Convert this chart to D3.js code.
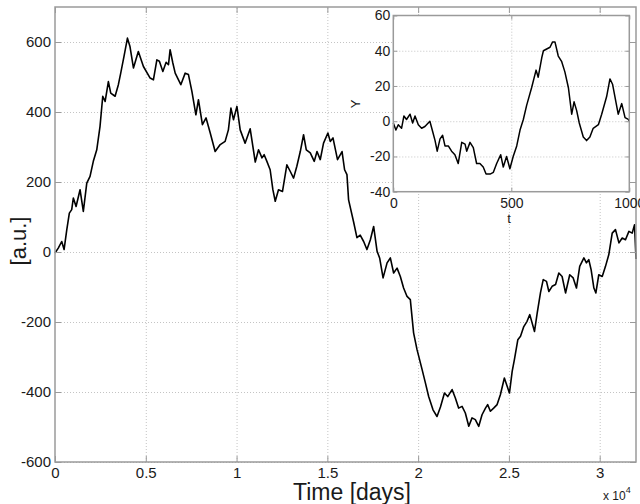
<!DOCTYPE html>
<html>
<head>
<meta charset="utf-8">
<script src="https://cdn.jsdelivr.net/npm/d3@7"></script>
<style>
    body { margin: 0; background: #fff; }
    text { font-family: 'Liberation Sans', Arial, sans-serif; fill: #1a1a1a; }
</style>
</head>
<body>
<script>
// main series: time in days, signal in a.u.
const mainDays = [0,180,370,500,650,790,920,1010,1160,1380,
    1560,1750,1930,2110,2300,2480,2630,2760,2940,3070,
    3310,3490,3620,3800,3990,4130,4320,4590,4870,5240,
    5420,5610,5750,5940,6120,6250,6340,6490,6620,6930,
    7170,7350,7540,7760,7900,8120,8320,8550,8820,9100,
    9370,9550,9690,9830,10020,10200,10470,10750,11030,11210,
    11400,11520,11670,11850,12000,12130,12310,12530,12770,12960,
    13140,13320,13510,13690,13840,14060,14280,14430,14610,14790,
    15030,15160,15310,15560,15810,15950,16080,16170,16450,16630,
    16810,17000,17180,17370,17550,17740,17880,18070,18290,18470,
    18650,18840,19020,19200,19390,19570,19750,19940,20220,20400,
    20580,20820,21040,21230,21450,21630,21870,22050,22230,22420,
    22600,22790,22970,23150,23340,23520,23710,23830,23980,24160,
    24350,24530,24750,25030,25180,25300,25490,25640,25820,26000,
    26150,26410,26560,26740,26890,27070,27200,27380,27570,27750,
    27930,28120,28350,28540,28720,28900,29130,29270,29400,29530,
    29680,29790,29950,30140,30320,30500,30690,30870,31060,31240,
    31420,31610,31790,31920,32000];
const mainValues = [-3,11,30,7,64,111,121,154,130,178,
    116,197,216,259,292,359,445,430,487,454,
    445,478,511,559,611,587,526,573,530,497,
    492,549,545,516,542,535,578,540,511,478,
    511,507,459,392,435,364,383,340,287,307,
    316,349,411,378,416,349,311,352,257,292,
    269,278,259,235,178,145,178,173,249,230,
    211,245,287,335,292,283,259,287,264,311,
    340,316,326,264,287,235,221,149,85,41,
    48,30,7,35,73,2,-17,-74,-31,-17,
    -60,-46,-70,-103,-127,-136,-231,-279,-336,-374,
    -413,-451,-470,-443,-403,-413,-393,-417,-446,-441,
    -460,-498,-474,-479,-498,-465,-446,-436,-455,-446,
    -436,-408,-360,-403,-341,-308,-251,-241,-213,-198,
    -179,-227,-174,-116,-79,-84,-113,-98,-93,-60,
    -70,-117,-65,-74,-103,-41,-17,-31,-22,-51,
    -103,-117,-65,-70,-41,-8,54,64,26,40,
    35,59,54,78,-20];

// inset series: t, Y
const insetT = [0,11,21,35,45,56,71,82,92,106,
    120,134,155,167,177,186,198,209,219,233,
    247,261,275,290,304,311,325,339,353,367,
    381,393,410,424,438,455,466,480,494,508,
    523,537,551,565,586,605,614,629,636,650,
    664,675,685,699,713,727,742,756,766,777,
    788,805,819,833,847,869,883,904,918,929,
    939,953,968,982,996,1000];
const insetY = [-1,-5,-2,-4,3,1,4,-1,3,-2,
    -4,-3,0,-6,-11,-17,-10,-8,-14,-14,
    -17,-19,-24,-12,-13,-17,-12,-15,-24,-24,
    -26,-30,-30,-29,-24,-19,-26,-20,-27,-20,
    -14,-5,1,9,19,29,25,36,40,41,
    42,45,45,37,34,28,19,4,11,6,
    -1,-9,-11,-9,-4,-2,4,14,24,21,
    14,4,10,2,1,0];

// ticks
const xTicks = [0,5000,10000,15000,20000,25000,30000];
const xTickLabels = ['0','0.5','1','1.5','2','2.5','3'];
const yTicks = [-600,-400,-200,0,200,400,600];
const insetXTicks = [0,500,1000];
const insetYTicks = [-40,-20,0,20,40,60];

const width = 640;
const height = 504;
const box = { left: 55, right: 636, top: 7, bottom: 462 };
const boxColor = '#9a9a9a';
const gridColor = '#c4c4c4';
const plain = (d) => String(d);   // hyphen minus, no thousands comma

const svg = d3.select('body')
    .append('svg')
    .attr('width', width)
    .attr('height', height);

svg.append('rect')
    .attr('width', width)
    .attr('height', height)
    .attr('fill', '#fff');

const xScale = d3.scaleLinear().domain([0, 32000]).range([box.left, box.right]);
const yScale = d3.scaleLinear().domain([-600, 700]).range([box.bottom, box.top]);

function styleGrid(g) {
    g.select('.domain').remove();
    g.selectAll('line')
        .attr('stroke', gridColor)
        .attr('stroke-width', 1)
        .attr('stroke-dasharray', '1,2');
}

function styleTicks(g, size) {
    g.select('.domain').remove();
    g.selectAll('line').attr('stroke', boxColor).attr('stroke-width', 1);
    g.selectAll('text').attr('fill', '#1a1a1a').attr('font-size', size);
}

// grid
svg.append('g')
    .attr('transform', `translate(0,${box.bottom})`)
    .call(d3.axisBottom(xScale).tickValues(xTicks.slice(1)).tickSize(-(box.bottom - box.top)).tickFormat(''))
    .call(styleGrid);

svg.append('g')
    .attr('transform', `translate(${box.left},0)`)
    .call(d3.axisLeft(yScale).tickValues(yTicks).tickSize(-(box.right - box.left)).tickFormat(''))
    .call(styleGrid);

// main line
const line = d3.line()
    .x((d) => xScale(d[0]))
    .y((d) => yScale(d[1]));

svg.append('path')
    .datum(mainDays.map((d, i) => [d, mainValues[i]]))
    .attr('d', line)
    .attr('fill', 'none')
    .attr('stroke', '#000')
    .attr('stroke-width', 1.6)
    .attr('stroke-linejoin', 'round');

// axes with inward ticks on all sides
svg.append('g')
    .attr('transform', `translate(0,${box.bottom})`)
    .call(d3.axisBottom(xScale).tickValues(xTicks).tickSizeInner(-6).tickSizeOuter(0).tickPadding(5)
        .tickFormat((d, i) => xTickLabels[i]))
    .call((g) => styleTicks(g, '15px'));

svg.append('g')
    .attr('transform', `translate(0,${box.top})`)
    .call(d3.axisTop(xScale).tickValues(xTicks).tickSizeInner(-6).tickSizeOuter(0).tickFormat(''))
    .call((g) => styleTicks(g, '15px'));

svg.append('g')
    .attr('transform', `translate(${box.left},0)`)
    .call(d3.axisLeft(yScale).tickValues(yTicks).tickSizeInner(-6).tickSizeOuter(0).tickPadding(4)
        .tickFormat(plain))
    .call((g) => styleTicks(g, '15px'));

svg.append('g')
    .attr('transform', `translate(${box.right},0)`)
    .call(d3.axisRight(yScale).tickValues(yTicks).tickSizeInner(-6).tickSizeOuter(0).tickFormat(''))
    .call((g) => styleTicks(g, '15px'));

svg.append('rect')
    .attr('x', box.left)
    .attr('y', box.top)
    .attr('width', box.right - box.left)
    .attr('height', box.bottom - box.top)
    .attr('fill', 'none')
    .attr('stroke', boxColor)
    .attr('stroke-width', 1.5);

// labels
svg.append('text')
    .attr('x', 352)
    .attr('y', 500)
    .attr('text-anchor', 'middle')
    .attr('font-size', '23px')
    .text('Time [days]');

svg.append('text')
    .attr('transform', 'translate(26,241) rotate(-90)')
    .attr('text-anchor', 'middle')
    .attr('font-size', '22px')
    .text('[a.u.]');

let expo = svg.append('text')
    .attr('x', 603)
    .attr('y', 500)
    .attr('font-size', '12px')
    .text('x 10');
expo.append('tspan')
    .attr('dy', -7)
    .attr('font-size', '9px')
    .text('4');

// inset
const ibox = { left: 393.3, right: 629.3, top: 15.5, bottom: 191.7 };
const ix = d3.scaleLinear().domain([0, 1000]).range([ibox.left, ibox.right]);
const iy = d3.scaleLinear().domain([-40, 60]).range([ibox.bottom, ibox.top]);

svg.append('rect')
    .attr('x', ibox.left)
    .attr('y', ibox.top)
    .attr('width', ibox.right - ibox.left)
    .attr('height', ibox.bottom - ibox.top)
    .attr('fill', '#fff');

svg.append('g')
    .attr('transform', `translate(0,${ibox.bottom})`)
    .call(d3.axisBottom(ix).tickValues([500]).tickSize(-(ibox.bottom - ibox.top)).tickFormat(''))
    .call(styleGrid);

svg.append('g')
    .attr('transform', `translate(${ibox.left},0)`)
    .call(d3.axisLeft(iy).tickValues(insetYTicks.slice(1, -1)).tickSize(-(ibox.right - ibox.left)).tickFormat(''))
    .call(styleGrid);

const iline = d3.line()
    .x((d) => ix(d[0]))
    .y((d) => iy(d[1]));

svg.append('path')
    .datum(insetT.map((d, i) => [d, insetY[i]]))
    .attr('d', iline)
    .attr('fill', 'none')
    .attr('stroke', '#000')
    .attr('stroke-width', 1.5)
    .attr('stroke-linejoin', 'round');

svg.append('g')
    .attr('transform', `translate(0,${ibox.bottom})`)
    .call(d3.axisBottom(ix).tickValues(insetXTicks).tickSizeInner(-4).tickSizeOuter(0).tickPadding(6)
        .tickFormat(plain))
    .call((g) => styleTicks(g, '14px'));

svg.append('g')
    .attr('transform', `translate(0,${ibox.top})`)
    .call(d3.axisTop(ix).tickValues(insetXTicks).tickSizeInner(-4).tickSizeOuter(0).tickFormat(''))
    .call((g) => styleTicks(g, '14px'));

svg.append('g')
    .attr('transform', `translate(${ibox.left},0)`)
    .call(d3.axisLeft(iy).tickValues(insetYTicks).tickSizeInner(-4).tickSizeOuter(0).tickPadding(3)
        .tickFormat(plain))
    .call((g) => styleTicks(g, '14px'));

svg.append('g')
    .attr('transform', `translate(${ibox.right},0)`)
    .call(d3.axisRight(iy).tickValues(insetYTicks).tickSizeInner(-4).tickSizeOuter(0).tickFormat(''))
    .call((g) => styleTicks(g, '14px'));

svg.append('rect')
    .attr('x', ibox.left)
    .attr('y', ibox.top)
    .attr('width', ibox.right - ibox.left)
    .attr('height', ibox.bottom - ibox.top)
    .attr('fill', 'none')
    .attr('stroke', boxColor)
    .attr('stroke-width', 1.5);

svg.append('text')
    .attr('transform', 'translate(360,104) rotate(-90)')
    .attr('text-anchor', 'middle')
    .attr('font-size', '13px')
    .text('Y');

svg.append('text')
    .attr('x', 509)
    .attr('y', 223)
    .attr('text-anchor', 'middle')
    .attr('font-size', '13px')
    .text('t');
</script>
</body>
</html>
